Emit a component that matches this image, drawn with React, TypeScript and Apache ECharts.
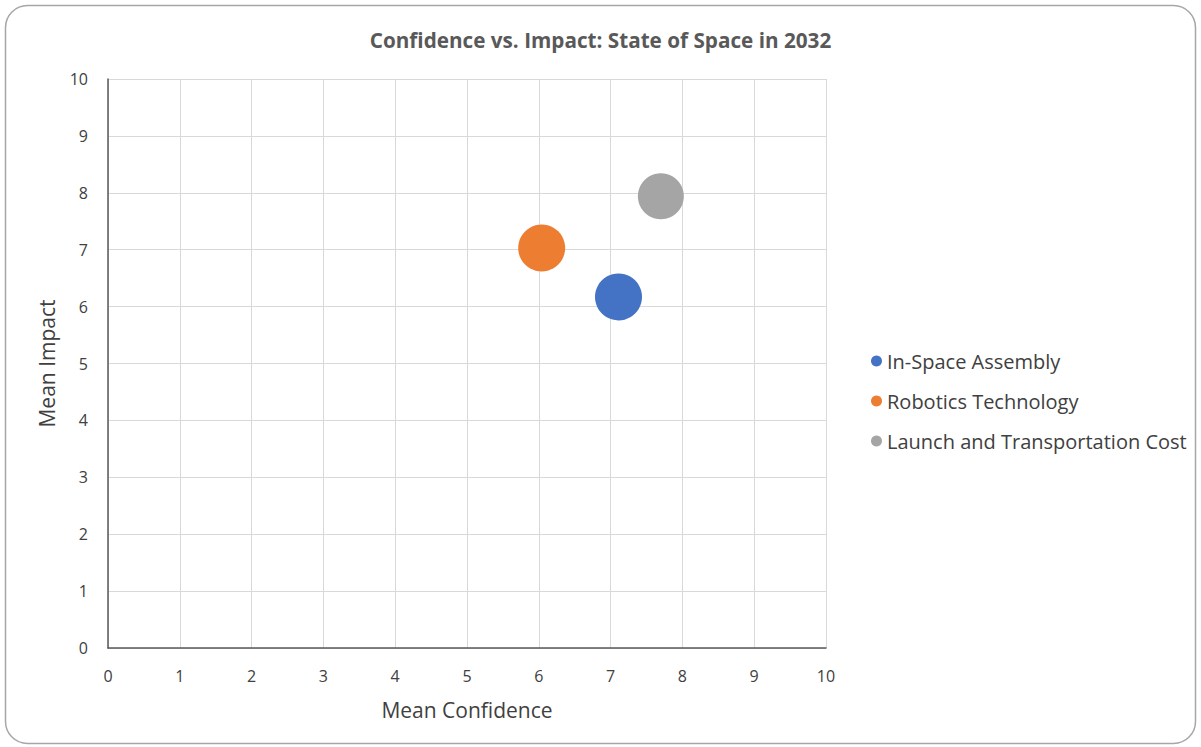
import React, { useEffect, useRef } from "react";
import * as echarts from "echarts";

const seriesNames = ["In-Space Assembly", "Robotics Technology", "Launch and Transportation Cost"];
const confidence = [7.11, 6.04, 7.7];
const impact = [6.17, 7.03, 7.94];
const bubbleSizes = [47, 47, 46];
const colors = ["#4472C4", "#ED7D31", "#A5A5A5"];
const titleText = "Confidence vs. Impact: State of Space in 2032";
const xName = "Mean Confidence";
const yName = "Mean Impact";

export default function App() {
  const ref = useRef<HTMLDivElement>(null);
  useEffect(() => {
    if (!ref.current) return;
    const chart = echarts.init(ref.current, null, { renderer: "svg" });
    const font = "'Open Sans', 'Noto Sans', sans-serif";
    chart.setOption({
      animation: false,
      backgroundColor: "#ffffff",
      textStyle: { fontFamily: font },
      title: {
        text: titleText,
        left: "center",
        top: 24,
        textStyle: { fontSize: 20.7, fontWeight: "bold", color: "#595959", fontFamily: font },
      },
      graphic: [
        {
          type: "rect",
          shape: { x: 5.5, y: 5.5, width: 1190, height: 738, r: 22 },
          style: { fill: "none", stroke: "#a6a6a6", lineWidth: 1.5 },
          silent: true,
          z: -1,
        },
      ],
      legend: {
        orient: "vertical",
        left: 866,
        top: 346,
        itemWidth: 11,
        itemHeight: 11,
        itemGap: 20,
        icon: "circle",
        textStyle: { fontSize: 20, color: "#404040", fontFamily: font },
        data: seriesNames,
      },
      grid: { left: 108, right: 375, top: 79, bottom: 99, containLabel: false },
      xAxis: {
        type: "value",
        min: 0,
        max: 10,
        interval: 1,
        name: xName,
        nameLocation: "middle",
        nameGap: 51,
        nameTextStyle: { fontSize: 21, color: "#404040", fontFamily: font },
        axisLine: { show: true, lineStyle: { color: "#595959", width: 1.5 } },
        axisTick: { show: false },
        axisLabel: { fontSize: 16, color: "#404040", margin: 20, fontFamily: font },
        splitLine: { show: true, lineStyle: { color: "#d9d9d9", width: 1 } },
      },
      yAxis: {
        type: "value",
        min: 0,
        max: 10,
        interval: 1,
        name: yName,
        nameLocation: "middle",
        nameGap: 51,
        nameTextStyle: { fontSize: 21, color: "#404040", fontFamily: font },
        axisLine: { show: true, lineStyle: { color: "#595959", width: 1.5 } },
        axisTick: { show: false },
        axisLabel: { fontSize: 16, color: "#404040", margin: 20, fontFamily: font },
        splitLine: { show: true, lineStyle: { color: "#d9d9d9", width: 1 } },
      },
      series: seriesNames.map((name, i) => ({
        name,
        type: "scatter",
        data: [[confidence[i], impact[i]]],
        symbol: "circle",
        symbolSize: bubbleSizes[i],
        itemStyle: { color: colors[i], opacity: 1 },
      })),
    });
    return () => chart.dispose();
  }, []);
  return (
    <div
      ref={ref}
      style={{ position: "fixed", left: 0, top: 0, width: 1201, height: 747 }}
    />
  );
}
